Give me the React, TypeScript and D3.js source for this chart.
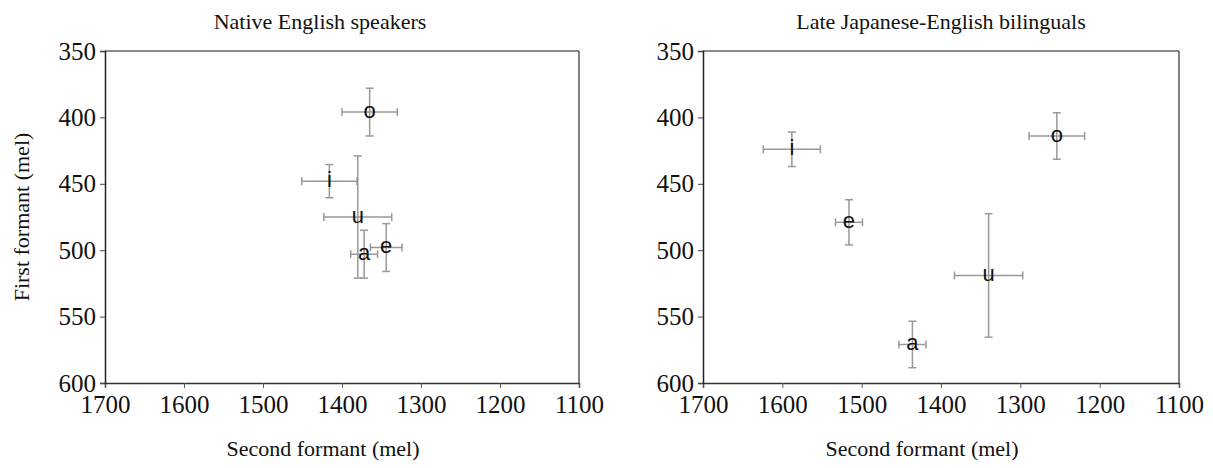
import React, { useRef, useEffect } from 'react';
import * as d3 from 'd3';

// vowel categories and formant means / error half-widths (mel)
const vowels = ['i', 'e', 'a', 'o', 'u'];
const nativeF2 = [1416, 1344, 1372, 1365, 1380];
const nativeF2Err = [35, 20, 17, 35, 43];
const nativeF1 = [448, 498, 503, 396, 475];
const nativeF1Err = [12.5, 18, 18, 18, 46];
const lateF2 = [1588, 1516, 1436, 1254, 1340];
const lateF2Err = [36, 17, 17, 35, 43];
const lateF1 = [424, 479, 571, 414, 519];
const lateF1Err = [13, 17, 17.5, 17.5, 46.5];
const xTicks = [1700, 1600, 1500, 1400, 1300, 1200, 1100];
const yTicks = [350, 400, 450, 500, 550, 600];
const titles = ['Native English speakers', 'Late Japanese-English bilinguals'];

const W = 1213;
const H = 468;
const top = 51;
const bottom = 383;
const serif = '"Liberation Serif", "Times New Roman", serif';
const panels = [
  { left: 105, right: 579, titleShift: -22, labelShift: -19 },
  { left: 703, right: 1179, titleShift: 0, labelShift: -19 },
];

export default function App() {
  const svgRef = useRef(null);

  useEffect(() => {
    const svg = d3.select(svgRef.current);
    svg.selectAll('*').remove();

    const series = [
      { f2: nativeF2, f2e: nativeF2Err, f1: nativeF1, f1e: nativeF1Err },
      { f2: lateF2, f2e: lateF2Err, f1: lateF1, f1e: lateF1Err },
    ];

    panels.forEach((p, k) => {
      const x = d3.scaleLinear().domain([1700, 1100]).range([p.left, p.right]);
      const y = d3.scaleLinear().domain([350, 600]).range([top, bottom]);
      const g = svg.append('g');

      // frame: top and right in grey
      g.append('line').attr('x1', p.left).attr('x2', p.right).attr('y1', top).attr('y2', top)
        .attr('stroke', '#666').attr('stroke-width', 1.5);
      g.append('line').attr('x1', p.right).attr('x2', p.right).attr('y1', top).attr('y2', bottom)
        .attr('stroke', '#555').attr('stroke-width', 1.5);

      // axes
      const xAxis = d3.axisBottom(x).tickValues(xTicks).tickSize(5).tickPadding(7).tickFormat(d3.format('d'));
      const yAxis = d3.axisLeft(y).tickValues(yTicks).tickSize(5).tickPadding(4).tickFormat(d3.format('d'));

      g.append('g')
        .attr('transform', `translate(0,${bottom})`)
        .call(xAxis)
        .attr('font-family', null).attr('font-size', null)
        .call(a => a.select('.domain').attr('stroke', '#333').attr('stroke-width', 1.5))
        .call(a => a.selectAll('.tick line').attr('stroke', '#555'))
        .call(a => a.selectAll('.tick text')
          .style('font-family', serif)
          .style('font-size', '25px').attr('fill', '#111'));

      g.append('g')
        .attr('transform', `translate(${p.left},0)`)
        .call(yAxis)
        .attr('font-family', null).attr('font-size', null)
        .call(a => a.select('.domain').attr('stroke', '#222').attr('stroke-width', 1.5))
        .call(a => a.selectAll('.tick line').attr('stroke', '#444'))
        .call(a => a.selectAll('.tick text')
          .style('font-family', serif)
          .style('font-size', '25px').attr('fill', '#111'));

      // title and x label
      g.append('text')
        .attr('x', (p.left + p.right) / 2 + p.titleShift).attr('y', 29)
        .attr('text-anchor', 'middle')
        .style('font-family', serif)
        .style('font-size', '22px').attr('fill', '#111')
        .text(titles[k]);
      g.append('text')
        .attr('x', (p.left + p.right) / 2 + p.labelShift).attr('y', 456)
        .attr('text-anchor', 'middle')
        .style('font-family', serif)
        .style('font-size', '22px').attr('fill', '#111')
        .text('Second formant (mel)');

      // error bars
      const s = series[k];
      const cap = 4;
      const eb = g.append('g').attr('stroke', '#999').attr('stroke-width', 1.5).attr('fill', 'none');
      vowels.forEach((v, i) => {
        const cx = x(s.f2[i]);
        const cy = y(s.f1[i]);
        const x0 = x(s.f2[i] + s.f2e[i]);
        const x1 = x(s.f2[i] - s.f2e[i]);
        const y0 = y(s.f1[i] - s.f1e[i]);
        const y1 = y(s.f1[i] + s.f1e[i]);
        eb.append('line').attr('x1', x0).attr('x2', x1).attr('y1', cy).attr('y2', cy);
        eb.append('line').attr('x1', x0).attr('x2', x0).attr('y1', cy - cap).attr('y2', cy + cap);
        eb.append('line').attr('x1', x1).attr('x2', x1).attr('y1', cy - cap).attr('y2', cy + cap);
        eb.append('line').attr('x1', cx).attr('x2', cx).attr('y1', y0).attr('y2', y1);
        eb.append('line').attr('x1', cx - cap).attr('x2', cx + cap).attr('y1', y0).attr('y2', y0);
        eb.append('line').attr('x1', cx - cap).attr('x2', cx + cap).attr('y1', y1).attr('y2', y1);
      });

      // vowel labels
      g.append('g')
        .selectAll('text')
        .data(vowels)
        .join('text')
        .attr('x', (d, i) => x(s.f2[i]))
        .attr('y', (d, i) => y(s.f1[i]))
        .attr('dy', '0.27em')
        .attr('text-anchor', 'middle')
        .style('font-family', '"Liberation Sans", Arial, sans-serif')
        .style('font-size', '22px')
        .attr('fill', '#111')
        .text(d => d);
    });

    // y label (left panel only)
    svg.append('text')
      .attr('transform', `translate(29,${(top + bottom) / 2}) rotate(-90)`)
      .attr('text-anchor', 'middle')
      .style('font-family', serif)
      .style('font-size', '22px').attr('fill', '#111')
      .text('First formant (mel)');
  }, []);

  return (
    <div style={{ position: 'absolute', left: 0, top: 0, background: '#fff' }}>
      <svg ref={svgRef} width={W} height={H} style={{ display: 'block' }}></svg>
    </div>
  );
}
